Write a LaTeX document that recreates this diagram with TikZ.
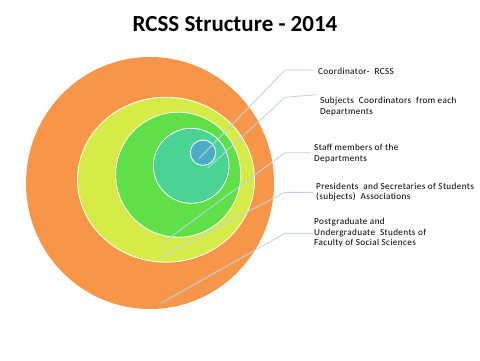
\documentclass[tikz,border=0pt]{standalone}
\usepackage{fontspec}
\setmainfont{Carlito}
\newfontfamily\lblfont[LetterSpace=4]{Carlito}
\usetikzlibrary{shapes.geometric}
\definecolor{corange}{RGB}{247,150,72}
\definecolor{cyellow}{RGB}{214,235,72}
\definecolor{cgreen}{RGB}{96,224,72}
\definecolor{cteal}{RGB}{74,212,148}
\definecolor{cblue}{RGB}{75,172,198}
\definecolor{cline}{RGB}{185,214,226}
\tikzset{
  ring/.style={ellipse, inner sep=0pt, draw=white, line width=0.8pt},
  leader/.style={draw=cline, line width=0.9pt},
  lbl/.style={anchor=west, align=left, inner sep=0pt, font=\lblfont\fontsize{9.2}{10.6}\selectfont},
}
\begin{document}
\begin{tikzpicture}[x=1pt,y=-1pt]
\useasboundingbox (0,0) rectangle (480,360);
\node[font=\fontsize{23}{26}\bfseries] (title) at (235,24) {RCSS Structure - 2014};
\node[ring, fill=corange, draw=none, minimum width=248pt, minimum height=252pt] (e1) at (150,183) {};
\node[ring, fill=cyellow, minimum width=177pt, minimum height=165pt] (e2) at (166,179.7) {};
\node[ring, fill=cgreen, minimum width=125pt, minimum height=125pt] (e3) at (178.2,174.7) {};
\node[ring, fill=cteal, minimum width=75.6pt, minimum height=75pt] (e4) at (191.2,165.8) {};
\node[ring, fill=cblue, minimum width=25.4pt, minimum height=25.4pt] (e5) at (203,152.7) {};
% leader end points
\coordinate (p1) at (199.3,158.3);
\coordinate (k1) at (285,70);
\coordinate (h1) at (313,70);
\coordinate (p2) at (207.7,168.3);
\coordinate (k2) at (285,97.3);
\coordinate (h2) at (316.5,94.7);
\coordinate (p3) at (164,242);
\coordinate (k3) at (285,152.7);
\coordinate (h3) at (311,152.7);
\coordinate (p4) at (160,257.3);
\coordinate (k4) at (285,192.3);
\coordinate (h4) at (313,192.3);
\coordinate (p5) at (160.7,303.3);
\coordinate (k5) at (285,233.3);
\coordinate (h5) at (313,233.3);
% labels
\node[lbl] (t1) at (318,71) {Coordinator-\ \ RCSS};
\node[lbl] (t2) at (320,106.3) {Subjects\ \ Coordinators\ \ from each\\Departments};
\node[lbl] (t3) at (314,153.6) {Staff members of the\\Departments};
\node[lbl] (t4) at (316,192.2) {Presidents\ \ and Secretaries of Students\\(subjects)\ \ Associations};
\node[lbl] (t5) at (314,232.8) {Postgraduate and\\Undergraduate\ \ Students of\\Faculty of Social Sciences};
\draw[leader] (p1) -- (k1) -- (h1);
\draw[leader] (p2) -- (k2) -- (h2);
\draw[leader] (p3) -- (k3) -- (h3);
\draw[leader] (p4) -- (k4) -- (h4);
\draw[leader] (p5) -- (k5) -- (h5);
\end{tikzpicture}
\end{document}
